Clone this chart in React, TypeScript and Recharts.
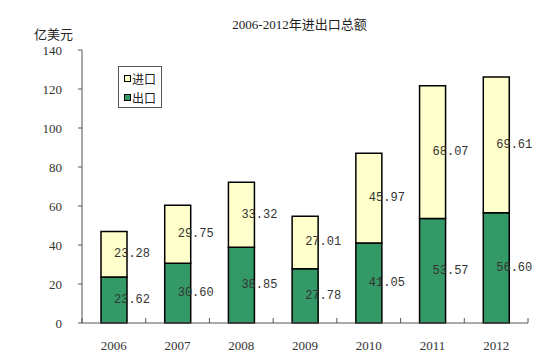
import { Bar, BarChart, LabelList, XAxis, YAxis } from "recharts"

const years = ["2006", "2007", "2008", "2009", "2010", "2011", "2012"]
const exports = [23.62, 30.6, 38.85, 27.78, 41.05, 53.57, 56.6]
const imports = [23.28, 29.75, 33.32, 27.01, 45.97, 68.07, 69.61]
const yTicks = [0, 20, 40, 60, 80, 100, 120, 140]

const legendItems = [
  { label: "进口", color: "#FFFFCC" },
  { label: "出口", color: "#339966" },
]

const W = 549
const H = 360
const margin = { top: 50, right: 21, bottom: 7, left: 22 }
const plotLeft = 82
const plotRight = W - margin.right
const band = (plotRight - plotLeft) / years.length

const serif = "'Liberation Serif', 'Noto Sans CJK SC', serif"
const mono = "'Liberation Mono', 'DejaVu Sans Mono', monospace"

const renderLabel = (props: any) => {
  const { x, y, width, height, value } = props
  return (
    <text
      x={x + width / 2 + 18}
      y={y + height / 2}
      textAnchor="middle"
      dominantBaseline="central"
      fontSize={12}
      fontFamily={mono}
      fill="#333"
    >
      {Number(value).toFixed(2)}
    </text>
  )
}

const XTick = (props: any) => {
  const { x, y, payload, index } = props
  const axisY = y - 8
  return (
    <g>
      <line x1={x - band / 2} x2={x - band / 2} y1={axisY} y2={axisY - 5} stroke="#555" />
      {index === years.length - 1 && (
        <line x1={x + band / 2} x2={x + band / 2} y1={axisY} y2={axisY - 5} stroke="#555" />
      )}
      <text x={x} y={y + 19} textAnchor="middle" fontSize={13} fontFamily={serif} fill="#333">
        {payload.value}
      </text>
    </g>
  )
}

const LegendBox = () => (
  <div
    style={{
      position: "absolute",
      left: 118,
      top: 66,
      width: 37,
      height: 36,
      border: "1px solid #555",
      padding: "2px 0 2px 5px",
      background: "#fff",
      fontFamily: "'Noto Sans CJK SC', sans-serif",
      fontSize: 12,
      color: "#222",
      lineHeight: "19px",
    }}
  >
    {legendItems.map((item) => (
      <div key={item.label} style={{ display: "flex", alignItems: "center" }}>
        <span
          style={{
            display: "inline-block",
            width: 5,
            height: 5,
            background: item.color,
            border: "1px solid #000",
            marginRight: 1,
          }}
        />
        {item.label}
      </div>
    ))}
  </div>
)

export default function App() {
  const data = years.map((year, i) => ({ year, exports: exports[i], imports: imports[i] }))

  return (
    <div style={{ position: "absolute", left: 0, top: 0, width: W, height: H, background: "#fff" }}>
      <div
        style={{
          position: "absolute",
          left: 0,
          width: W,
          top: 14,
          textAlign: "center",
          paddingLeft: 50,
          boxSizing: "border-box",
          fontFamily: serif,
          fontSize: 13,
          color: "#222",
        }}
      >
        2006-2012年进出口总额
      </div>
      <div
        style={{
          position: "absolute",
          left: 34,
          top: 24,
          fontFamily: "'Noto Sans CJK SC', sans-serif",
          fontSize: 13,
          color: "#222",
        }}
      >
        亿美元
      </div>
      <BarChart width={W} height={H} data={data} margin={margin} barSize={26}>
        <XAxis
          dataKey="year"
          axisLine={{ stroke: "#555" }}
          tickLine={false}
          tick={<XTick />}
          height={30}
          interval={0}
        />
        <YAxis
          width={60}
          domain={[0, 140]}
          ticks={yTicks}
          axisLine={{ stroke: "#555" }}
          tickLine={{ stroke: "#555" }}
          tickSize={4}
          tick={{ fontSize: 13, fontFamily: serif, fill: "#333" }}
          tickMargin={16}
        />
        <Bar dataKey="exports" stackId="a" fill="#339966" stroke="#000" strokeWidth={1.5} isAnimationActive={false}>
          <LabelList dataKey="exports" content={renderLabel} />
        </Bar>
        <Bar dataKey="imports" stackId="a" fill="#FFFFCC" stroke="#000" strokeWidth={1.5} isAnimationActive={false}>
          <LabelList dataKey="imports" content={renderLabel} />
        </Bar>
      </BarChart>
      <LegendBox />
    </div>
  )
}
